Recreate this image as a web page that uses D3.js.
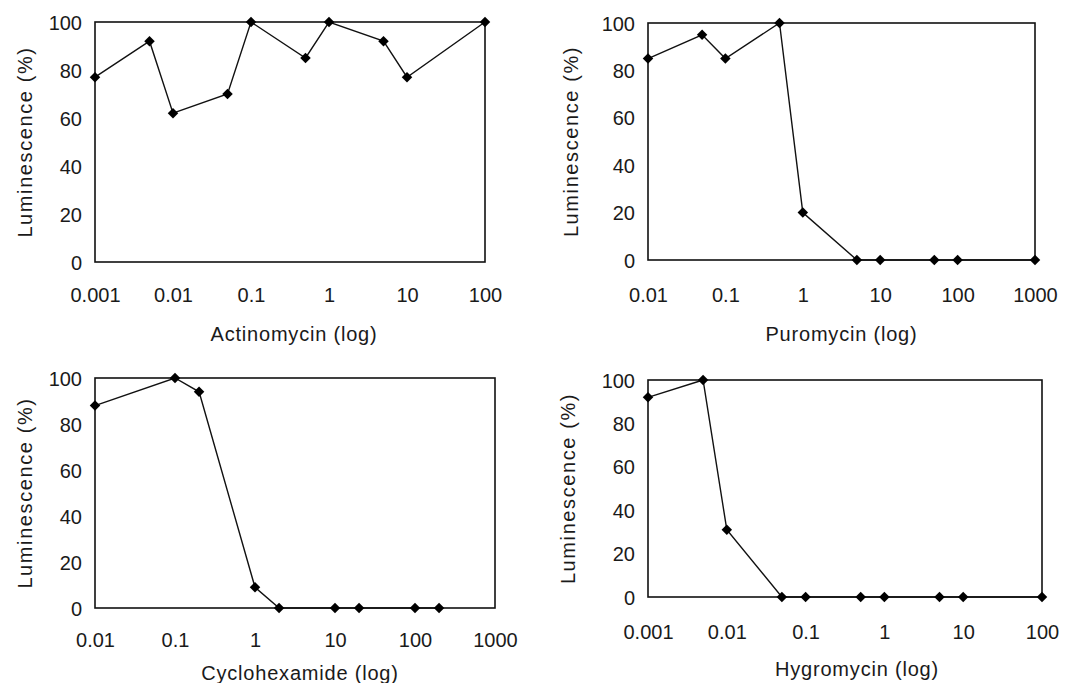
<!DOCTYPE html>
<html>
<head>
<meta charset="utf-8">
<script src="https://cdn.jsdelivr.net/npm/d3@7"></script>
<style>
  body { margin: 0; background: #fff; }
  svg text { font-family: "Liberation Sans", Arial, sans-serif; fill: #1a1a1a; }
</style>
</head>
<body>
<div id="chart"></div>
<script>
// datos
var actinoDose = [0.001, 0.005, 0.01, 0.05, 0.1, 0.5, 1, 5, 10, 100];
var actinoLum  = [77, 92, 62, 70, 100, 85, 100, 92, 77, 100];

var puroDose = [0.01, 0.05, 0.1, 0.5, 1, 5, 10, 50, 100, 1000];
var puroLum  = [85, 95, 85, 100, 20, 0, 0, 0, 0, 0];

var cycloDose = [0.01, 0.1, 0.2, 1, 2, 10, 20, 100, 200];
var cycloLum  = [88, 100, 94, 9, 0, 0, 0, 0, 0];

var hygroDose = [0.001, 0.005, 0.01, 0.05, 0.1, 0.5, 1, 5, 10, 100];
var hygroLum  = [92, 100, 31, 0, 0, 0, 0, 0, 0, 0];

var yTicks = [0, 20, 40, 60, 80, 100];
var ticksA = [0.001, 0.01, 0.1, 1, 10, 100];
var ticksB = [0.01, 0.1, 1, 10, 100, 1000];

var titleY = "Luminescence (%)";

var svg = d3.select("#chart").append("svg")
    .attr("width", 1072)
    .attr("height", 683);

// cada panel: caja del grafico + posiciones de los textos
var panels = [
  {dose: actinoDose, lum: actinoLum, ticks: ticksA, label: "Actinomycin (log)",
   x0: 95, x1: 485, y0: 22, y1: 262, tickY: 302, titleX: 25, titleBase: 341, titleDx: 4},
  {dose: puroDose, lum: puroLum, ticks: ticksB, label: "Puromycin (log)",
   x0: 648, x1: 1035, y0: 23, y1: 260, tickY: 302, titleX: 571, titleBase: 341, titleDx: 0},
  {dose: cycloDose, lum: cycloLum, ticks: ticksB, label: "Cyclohexamide (log)",
   x0: 95, x1: 495, y0: 378, y1: 608, tickY: 647, titleX: 25, titleBase: 680, titleDx: 5},
  {dose: hygroDose, lum: hygroLum, ticks: ticksA, label: "Hygromycin (log)",
   x0: 648, x1: 1042, y0: 380, y1: 597, tickY: 639, titleX: 568, titleBase: 676, titleDx: 12}
];

panels.forEach(function(p) {
    var x = d3.scaleLog()
        .domain(d3.extent(p.ticks))
        .range([p.x0, p.x1]);
    var y = d3.scaleLinear()
        .domain([0, 100])
        .range([p.y1, p.y0]);

    var g = svg.append("g");

    // marco
    g.append("rect")
        .attr("x", p.x0)
        .attr("y", p.y0)
        .attr("width", p.x1 - p.x0)
        .attr("height", p.y1 - p.y0)
        .attr("fill", "none")
        .attr("stroke", "#111")
        .attr("stroke-width", 1.6);

    // eje Y
    var yAxis = d3.axisLeft(y)
        .tickValues(yTicks)
        .tickSize(0)
        .tickPadding(13);
    g.append("g")
        .attr("transform", "translate(" + p.x0 + ",0)")
        .call(yAxis)
        .call(function(s) { s.select(".domain").remove(); })
        .selectAll("text")
        .style("font-size", "20px")
        .attr("dy", "0.35em");

    // eje X
    var xAxis = d3.axisBottom(x)
        .tickValues(p.ticks)
        .tickSize(0)
        .tickPadding(0)
        .tickFormat(function(d) { return String(d); });
    g.append("g")
        .attr("transform", "translate(0," + p.tickY + ")")
        .call(xAxis)
        .call(function(s) { s.select(".domain").remove(); })
        .selectAll("text")
        .style("font-size", "20px")
        .attr("dy", 0)
        .attr("y", 0);

    // titulos
    g.append("text")
        .attr("x", (p.x0 + p.x1) / 2 + p.titleDx)
        .attr("y", p.titleBase)
        .attr("text-anchor", "middle")
        .style("font-size", "20px")
        .style("letter-spacing", "0.8px")
        .text(p.label);

    g.append("text")
        .attr("transform", "translate(" + p.titleX + "," + ((p.y0 + p.y1) / 2) + ") rotate(-90)")
        .attr("text-anchor", "middle")
        .attr("dy", "0.35em")
        .style("font-size", "20px")
        .style("letter-spacing", "1.6px")
        .text(titleY);

    var pts = p.dose.map(function(d, i) { return [d, p.lum[i]]; });

    var line = d3.line()
        .x(function(d) { return x(d[0]); })
        .y(function(d) { return y(d[1]); });

    g.append("path")
        .attr("class", "line")
        .attr("d", line(pts))
        .attr("fill", "none")
        .attr("stroke", "#111")
        .attr("stroke-width", 1.4);

    g.selectAll(".pt")
        .data(pts)
        .enter().append("path")
        .attr("class", "pt")
        .attr("transform", function(d) { return "translate(" + x(d[0]) + "," + y(d[1]) + ")"; })
        .attr("d", d3.symbol().type(d3.symbolDiamond2).size(70))
        .attr("fill", "#000");
});
</script>
</body>
</html>
